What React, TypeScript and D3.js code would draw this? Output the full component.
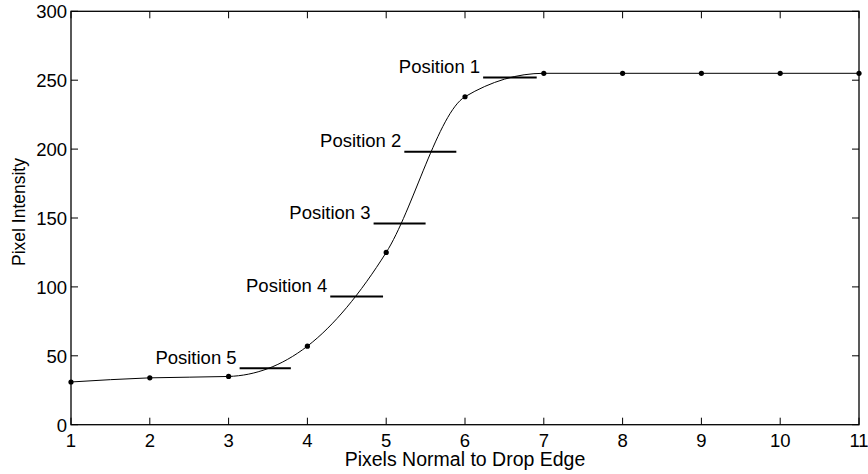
import React from "react";
import * as d3 from "d3";

// Sampled pixel intensities across the drop edge
const pixelIndex = [1, 2, 3, 4, 5, 6, 7, 8, 9, 10, 11];
const intensity = [31, 34, 35, 57, 125, 238, 255, 255, 255, 255, 255];

// Threshold levels marked on the profile
const positionLabels = ["Position 1", "Position 2", "Position 3", "Position 4", "Position 5"];
const positionLevel = [252, 198, 146, 93, 41];
const positionStart = [6.23, 5.23, 4.84, 4.29, 3.14];
const positionEnd = [6.91, 5.89, 5.5, 4.96, 3.79];

const xTicks = [1, 2, 3, 4, 5, 6, 7, 8, 9, 10, 11];
const yTicks = [0, 50, 100, 150, 200, 250, 300];

const W = 868;
const H = 474;
const M = { left: 71, right: 9, top: 11.3, bottom: 49.3 };
const FONT = "'Liberation Sans', Arial, Helvetica, sans-serif";

export default function App() {
  const x = d3.scaleLinear().domain([1, 11]).range([M.left, W - M.right]);
  const y = d3.scaleLinear().domain([0, 300]).range([H - M.bottom, M.top]);
  const [x0, x1] = x.range();
  const [y0, y1] = y.range();

  const pts: [number, number][] = pixelIndex.map((p, i) => [p, intensity[i]]);
  const line = d3
    .line<[number, number]>()
    .x((d) => x(d[0]))
    .y((d) => y(d[1]))
    .curve(d3.curveMonotoneX);

  const tickLen = 7;

  return (
    <svg
      width={W}
      height={H}
      style={{ position: "fixed", left: 0, top: 0, background: "#fff" }}
      fontFamily={FONT}
    >
      <rect x={0} y={0} width={W} height={H} fill="#fff" />
      {/* profile curve */}
      <path d={line(pts) ?? ""} fill="none" stroke="#000" strokeWidth={1} />
      {pts.map((d, i) => (
        <circle key={i} cx={x(d[0])} cy={y(d[1])} r={2.6} fill="#000" />
      ))}

      {/* threshold markers */}
      {positionLabels.map((lab, i) => (
        <g key={lab}>
          <line
            x1={x(positionStart[i])}
            x2={x(positionEnd[i])}
            y1={y(positionLevel[i])}
            y2={y(positionLevel[i])}
            stroke="#000"
            strokeWidth={2}
          />
          <text
            x={x(positionStart[i]) - 3}
            y={y(positionLevel[i]) - 4.5}
            textAnchor="end"
            fontSize={18.5}
          >
            {lab}
          </text>
        </g>
      ))}

      {/* ticks on all four sides */}
      {xTicks.map((t) => (
        <g key={"x" + t}>
          <line x1={x(t)} x2={x(t)} y1={y0} y2={y0 - tickLen} stroke="#000" />
          <line x1={x(t)} x2={x(t)} y1={y1} y2={y1 + tickLen} stroke="#000" />
          <text x={x(t)} y={y0 + 22} textAnchor="middle" fontSize={18.5}>
            {t}
          </text>
        </g>
      ))}
      {yTicks.map((t) => (
        <g key={"y" + t}>
          <line x1={x0} x2={x0 + tickLen} y1={y(t)} y2={y(t)} stroke="#000" />
          <line x1={x1} x2={x1 - tickLen} y1={y(t)} y2={y(t)} stroke="#000" />
          <text x={x0 - 4} y={y(t) + 7} textAnchor="end" fontSize={18.5}>
            {t}
          </text>
        </g>
      ))}

      {/* axes box */}
      <rect
        x={x0}
        y={y1}
        width={x1 - x0}
        height={y0 - y1}
        fill="none"
        stroke="#000"
        strokeWidth={1.3}
      />

      <text x={(x0 + x1) / 2} y={466} textAnchor="middle" fontSize={19.5}>
        Pixels Normal to Drop Edge
      </text>
      <text
        transform={`translate(25, ${212}) rotate(-90)`}
        textAnchor="middle"
        fontSize={17.5}
      >
        Pixel Intensity
      </text>
    </svg>
  );
}
